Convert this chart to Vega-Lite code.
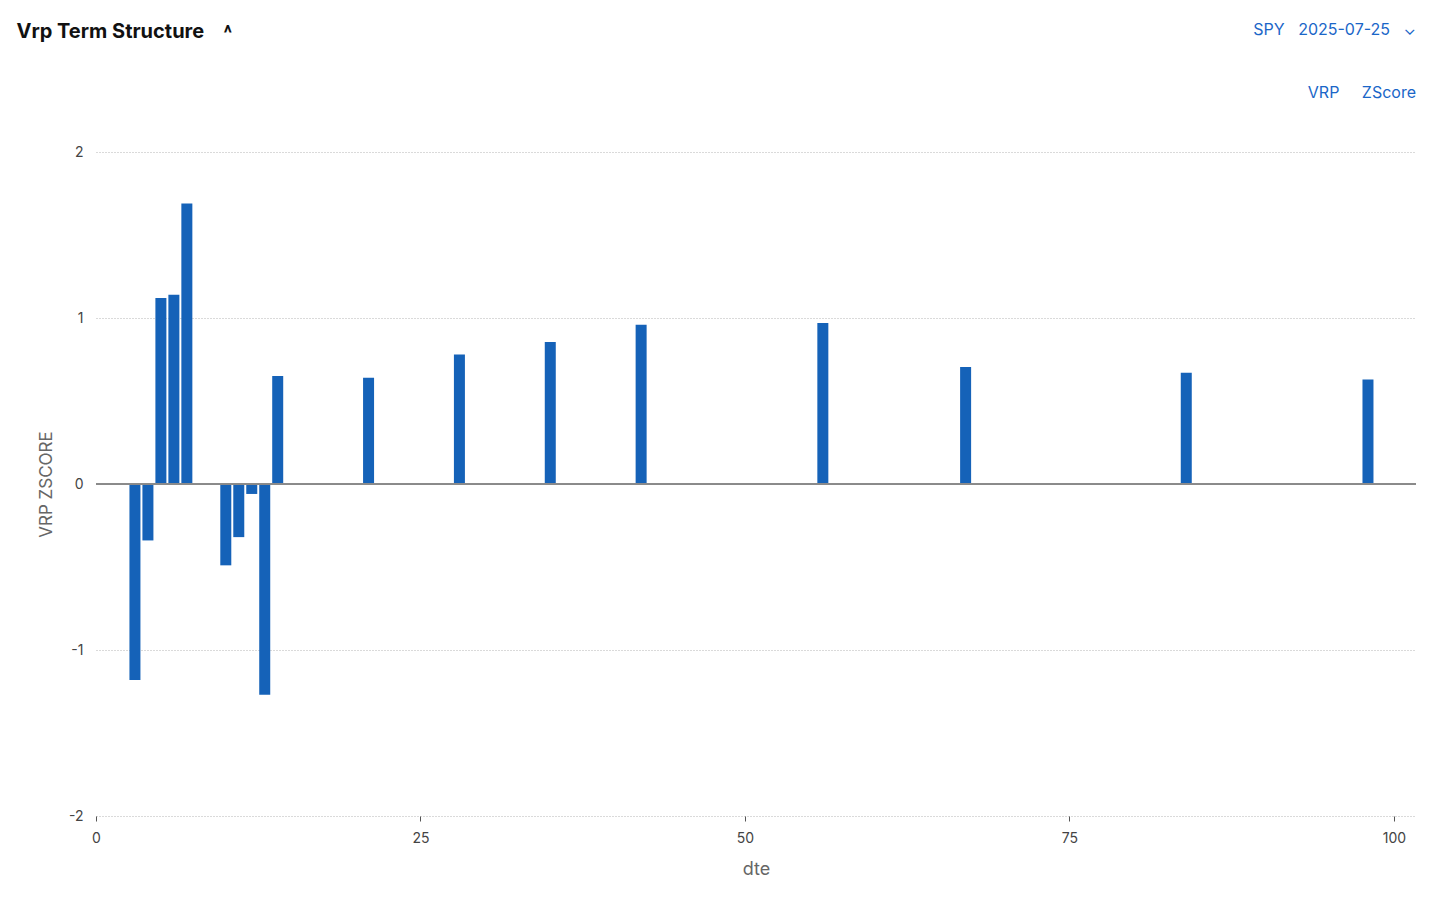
{
  "$schema": "https://vega.github.io/schema/vega-lite/v6.json",
  "background": "white",
  "padding": {"left": 16, "top": 22, "right": 40, "bottom": 20},
  "config": {
    "font": "Inter",
    "view": {"stroke": null},
    "axis": {"labelFont": "Inter", "titleFont": "Inter"}
  },
  "title": {
    "text": "Vrp Term Structure\u00a0\u00a0\u00a0\u00a0˄",
    "anchor": "start",
    "frame": "bounds",
    "fontSize": 20,
    "fontWeight": "bold",
    "color": "#111111",
    "dx": -21,
    "offset": -20
  },
  "vconcat": [
    {
      "width": 1320,
      "height": 664,
      "title": {
        "text": "SPY\u00a0\u00a0\u00a02025-07-25\u00a0\u00a0\u00a0⌄",
        "subtitle": "VRP\u00a0\u00a0\u00a0\u00a0\u00a0ZScore",
        "anchor": "end",
        "frame": "group",
        "fontSize": 16,
        "fontWeight": "normal",
        "color": "#1a66c8",
        "subtitleFontSize": 16,
        "subtitleColor": "#1a66c8",
        "subtitlePadding": 47,
        "offset": 44
      },
      "data": {
        "values": [
          {"dte": 3, "zscore": -1.18},
          {"dte": 4, "zscore": -0.34},
          {"dte": 5, "zscore": 1.12},
          {"dte": 6, "zscore": 1.14},
          {"dte": 7, "zscore": 1.69},
          {"dte": 10, "zscore": -0.49},
          {"dte": 11, "zscore": -0.32},
          {"dte": 12, "zscore": -0.06},
          {"dte": 13, "zscore": -1.27},
          {"dte": 14, "zscore": 0.65},
          {"dte": 21, "zscore": 0.64},
          {"dte": 28, "zscore": 0.78},
          {"dte": 35, "zscore": 0.855},
          {"dte": 42, "zscore": 0.96},
          {"dte": 56, "zscore": 0.97},
          {"dte": 67, "zscore": 0.705},
          {"dte": 84, "zscore": 0.67},
          {"dte": 98, "zscore": 0.63}
        ]
      },
      "layer": [
        {
          "mark": {"type": "bar", "size": 11, "color": "#1562b8"},
          "encoding": {
            "x": {
              "field": "dte",
              "type": "quantitative",
              "title": "dte",
              "scale": {"domain": [0, 101.7], "nice": false, "zero": false, "padding": 0},
              "axis": {
                "values": [0, 25, 50, 75, 100],
                "format": "d",
                "labelFlush": false,
                "grid": false,
                "domain": false,
                "ticks": true,
                "tickSize": 5,
                "tickColor": "#555555",
                "labelFontSize": 14,
                "labelColor": "#444444",
                "labelPadding": 10,
                "titleFontSize": 18,
                "titleFontWeight": "normal",
                "titleColor": "#666666",
                "titlePadding": 15
              }
            },
            "y": {
              "field": "zscore",
              "type": "quantitative",
              "title": "VRP ZSCORE",
              "scale": {"domain": [-2, 2], "nice": false},
              "axis": {
                "values": [-2, -1, 0, 1, 2],
                "labelExpr": "datum.value + ''",
                "labelFlush": false,
                "domain": false,
                "ticks": false,
                "grid": true,
                "gridDash": [1, 2],
                "gridColor": "#b5b5b5",
                "labelFontSize": 14,
                "labelColor": "#444444",
                "labelPadding": 13,
                "titleFontSize": 17,
                "titleFontWeight": "normal",
                "titleColor": "#666666",
                "titlePadding": 13
              }
            }
          }
        },
        {
          "mark": {"type": "rule", "color": "#8a8a8a", "strokeWidth": 1},
          "encoding": {"y": {"datum": 0}}
        }
      ]
    }
  ]
}
